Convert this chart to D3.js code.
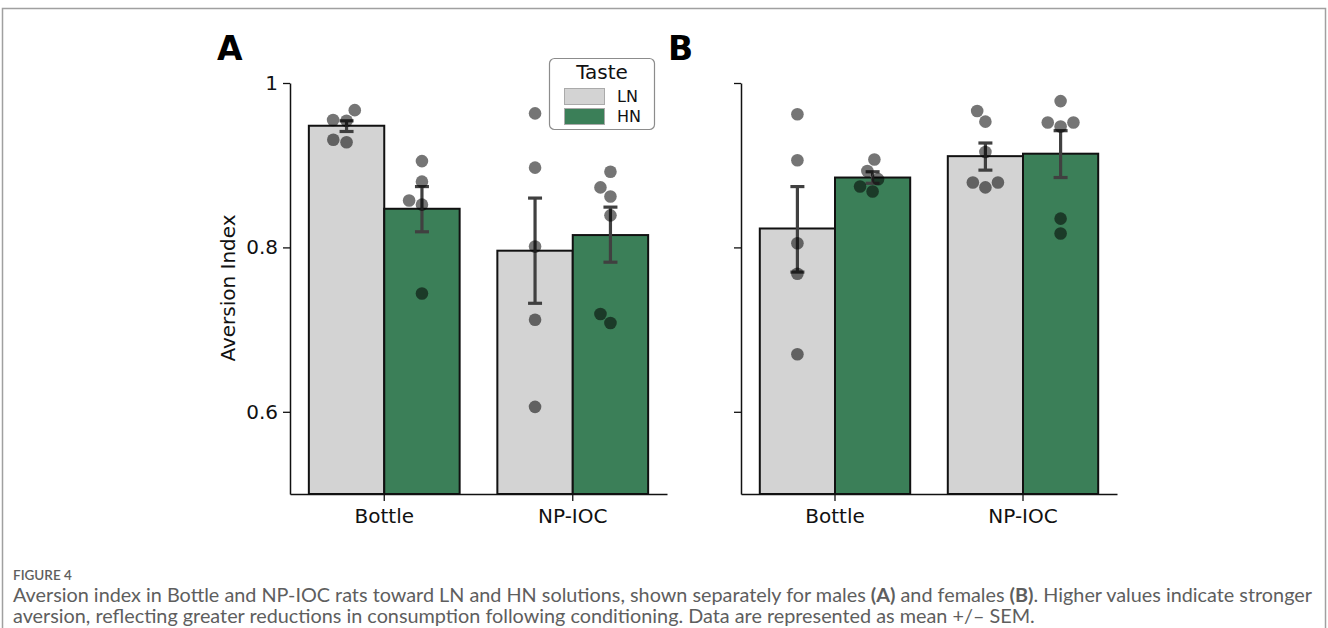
<!DOCTYPE html>
<html>
<head>
<meta charset="utf-8">
<script src="https://cdn.jsdelivr.net/npm/d3@7"></script>
<style>
  body { margin: 0; background: #fff; }
  svg { display: block; }
</style>
</head>
<body>
<script>
// data
var categories = ["Bottle", "NP-IOC"];
var tastes = ["LN", "HN"];
var yTicks = [0.6, 0.8, 1];

// males (A): bar means and SEM ends
var maleLN = [0.948, 0.796];
var maleHN = [0.847, 0.815];
var maleLNerr = [[0.941, 0.954], [0.732, 0.860]];
var maleHNerr = [[0.819, 0.874], [0.782, 0.849]];

// females (B)
var femaleLN = [0.823, 0.911];
var femaleHN = [0.885, 0.914];
var femaleLNerr = [[0.770, 0.874], [0.894, 0.927]];
var femaleHNerr = [[0.878, 0.892], [0.885, 0.942]];

// single animals
var maleBottleLN = [0.967, 0.955, 0.954, 0.931, 0.928];
var maleBottleHN = [0.905, 0.880, 0.857, 0.852, 0.744];
var maleNpLN = [0.963, 0.897, 0.801, 0.712, 0.606];
var maleNpHN = [0.892, 0.873, 0.862, 0.839, 0.719, 0.708];
var femaleBottleLN = [0.962, 0.906, 0.805, 0.768, 0.670];
var femaleBottleHN = [0.907, 0.893, 0.883, 0.874, 0.868];
var femaleNpLN = [0.966, 0.953, 0.916, 0.879, 0.879, 0.873];
var femaleNpHN = [0.978, 0.952, 0.952, 0.947, 0.835, 0.817];

var width = 1328,
    height = 628;

var colors = { LN: "#d3d3d3", HN: "#3b7f58" };

var svg = d3.select("body").append("svg")
    .attr("width", width)
    .attr("height", height);

// outer frame of the figure box
svg.append("rect")
    .attr("x", 2.5).attr("y", 8.5)
    .attr("width", width - 5).attr("height", height + 10)
    .attr("fill", "none")
    .attr("stroke", "#a0a0a0")
    .attr("stroke-width", 1.5);

function makeGroups(ln, hn, lnErr, hnErr, pts) {
    var out = [];
    categories.forEach(function(c, i) {
        out.push({ cat: c, taste: "LN", mean: ln[i], lo: lnErr[i][0], hi: lnErr[i][1], pts: pts[i][0] });
        out.push({ cat: c, taste: "HN", mean: hn[i], lo: hnErr[i][0], hi: hnErr[i][1], pts: pts[i][1] });
    });
    return out;
}

var panels = [
    { letter: "A", left: 290, right: 667, labels: true,
      groups: makeGroups(maleLN, maleHN, maleLNerr, maleHNerr,
          [[maleBottleLN, maleBottleHN], [maleNpLN, maleNpHN]]) },
    { letter: "B", left: 741, right: 1117, labels: false,
      groups: makeGroups(femaleLN, femaleHN, femaleLNerr, femaleHNerr,
          [[femaleBottleLN, femaleBottleHN], [femaleNpLN, femaleNpHN]]) }
];

var y = d3.scaleLinear().domain([0.5, 1]).range([494, 83]);

var dotR = 6.3;

// simple beeswarm, like seaborn swarmplot: keep points as close to the centre as possible
function swarm(ys, cx, d) {
    var order = ys.map(function(v, i) { return i; })
        .sort(function(a, b) { return ys[b] - ys[a]; });
    var placed = [], xs = [];
    order.forEach(function(i) {
        var yy = ys[i];
        var near = placed.filter(function(p) { return Math.abs(p.y - yy) < d; });
        var cands = [0];
        near.forEach(function(p) {
            var dx = Math.sqrt(d * d - (p.y - yy) * (p.y - yy));
            cands.push(p.x - dx, p.x + dx);
        });
        cands.sort(function(a, b) { return Math.abs(a) - Math.abs(b) || a - b; });
        var x = cands.find(function(c) {
            return near.every(function(p) {
                return (p.x - c) * (p.x - c) + (p.y - yy) * (p.y - yy) >= d * d - 0.01;
            });
        });
        placed.push({ x: x, y: yy });
        xs[i] = cx + x;
    });
    return xs;
}

panels.forEach(function(p) {
    var x = d3.scaleBand().domain(categories).range([p.left, p.right])
        .paddingInner(0.2).paddingOuter(0.1);
    var xh = d3.scaleBand().domain(tastes).range([0, x.bandwidth()]);

    var g = svg.append("g");

    // bars
    g.selectAll("rect.bar")
        .data(p.groups)
        .enter().append("rect")
        .attr("class", "bar")
        .attr("x", function(d) { return x(d.cat) + xh(d.taste); })
        .attr("y", function(d) { return y(d.mean); })
        .attr("width", xh.bandwidth())
        .attr("height", function(d) { return y(0.5) - y(d.mean); })
        .attr("fill", function(d) { return colors[d.taste]; })
        .attr("stroke", "#111")
        .attr("stroke-width", 2);

    // error bars
    var eb = g.selectAll("g.err")
        .data(p.groups)
        .enter().append("g")
        .attr("class", "err")
        .attr("transform", function(d) {
            return "translate(" + (x(d.cat) + xh(d.taste) + xh.bandwidth() / 2) + ",0)";
        })
        .attr("stroke", "#404040")
        .attr("stroke-width", 3.2);
    eb.append("line")
        .attr("y1", function(d) { return y(d.lo); })
        .attr("y2", function(d) { return y(d.hi); });
    eb.append("line")
        .attr("x1", -7).attr("x2", 7)
        .attr("y1", function(d) { return y(d.lo); })
        .attr("y2", function(d) { return y(d.lo); });
    eb.append("line")
        .attr("x1", -7).attr("x2", 7)
        .attr("y1", function(d) { return y(d.hi); })
        .attr("y2", function(d) { return y(d.hi); });

    // dots
    p.groups.forEach(function(d) {
        var cx = x(d.cat) + xh(d.taste) + xh.bandwidth() / 2;
        var ys = d.pts.map(function(v) { return y(v); });
        var xs = swarm(ys, cx, dotR * 2 * 1.07);
        g.selectAll(null)
            .data(ys)
            .enter().append("circle")
            .attr("cx", function(v, i) { return xs[i]; })
            .attr("cy", function(v) { return v; })
            .attr("r", dotR)
            .attr("fill", "#000")
            .attr("fill-opacity", 0.54);
    });

    // axes
    var yAxis = d3.axisLeft(y).tickValues(yTicks).tickSize(7).tickSizeOuter(0).tickPadding(5)
        .tickFormat(p.labels ? d3.format("~g") : "");
    var ya = g.append("g")
        .attr("transform", "translate(" + p.left + ",0)")
        .call(yAxis);

    var xAxis = d3.axisBottom(x).tickSize(7).tickSizeOuter(0).tickPadding(8);
    var xa = g.append("g")
        .attr("transform", "translate(0," + y(0.5) + ")")
        .call(xAxis);

    [ya, xa].forEach(function(a) {
        a.select(".domain").attr("stroke", "#111").attr("stroke-width", 1.5);
        a.selectAll(".tick line").attr("stroke", "#111").attr("stroke-width", 1.3);
        a.selectAll("text")
            .attr("fill", "#111")
            .style("font-family", "DejaVu Sans")
            .style("font-size", "20px");
    });

    // panel letter
    svg.append("text")
        .attr("x", p.left - 73)
        .attr("y", 60)
        .style("font-family", "DejaVu Sans")
        .style("font-weight", "bold")
        .style("font-size", "33px")
        .attr("fill", "#000")
        .text(p.letter);
});

// y label
svg.append("text")
    .attr("transform", "translate(235,288) rotate(-90)")
    .attr("text-anchor", "middle")
    .style("font-family", "DejaVu Sans")
    .style("font-size", "20px")
    .attr("fill", "#111")
    .text("Aversion Index");

// legend
var leg = svg.append("g").attr("transform", "translate(549,58)");
leg.append("rect")
    .attr("x", 0.5).attr("y", 0.5)
    .attr("width", 105).attr("height", 71)
    .attr("rx", 5)
    .attr("fill", "#fff")
    .attr("stroke", "#8c8c8c")
    .attr("stroke-width", 1.2);
leg.append("text")
    .attr("x", 53).attr("y", 21)
    .attr("text-anchor", "middle")
    .style("font-family", "DejaVu Sans")
    .style("font-size", "20px")
    .attr("fill", "#111")
    .text("Taste");
tastes.forEach(function(t, i) {
    leg.append("rect")
        .attr("x", 15.5).attr("y", 30.5 + i * 20)
        .attr("width", 40).attr("height", 16)
        .attr("fill", colors[t])
        .attr("stroke", "#aaa")
        .attr("stroke-width", 1);
    leg.append("text")
        .attr("x", 68).attr("y", 44 + i * 20)
        .style("font-family", "DejaVu Sans")
        .style("font-size", "16px")
        .attr("fill", "#111")
        .text(t);
});

// caption
var cap = svg.append("g").style("font-family", "Lato").attr("fill", "#5e5e5e");
cap.append("text")
    .attr("x", 13).attr("y", 580)
    .style("font-size", "13.5px")
    .style("font-weight", "600")
    .text("FIGURE 4");

var line1 = cap.append("text").attr("x", 13).attr("y", 602).style("font-size", "16px");
line1.append("tspan").text("Aversion index in Bottle and NP-IOC rats toward LN and HN solutions, shown separately for males ");
line1.append("tspan").style("font-weight", "bold").text("(A)");
line1.append("tspan").text(" and females ");
line1.append("tspan").style("font-weight", "bold").text("(B)");
line1.append("tspan").text(". Higher values indicate stronger");

var line2 = cap.append("text").attr("x", 13).attr("y", 623).style("font-size", "16px")
    .text("aversion, reflecting greater reductions in consumption following conditioning. Data are represented as mean +/\u2013 SEM.");

// fit caption to the width seen in the figure
var w1 = line1.node().getComputedTextLength();
var fs = 16 * 1300 / w1;
line1.style("font-size", fs + "px");
line2.style("font-size", fs + "px");
</script>
</body>
</html>
